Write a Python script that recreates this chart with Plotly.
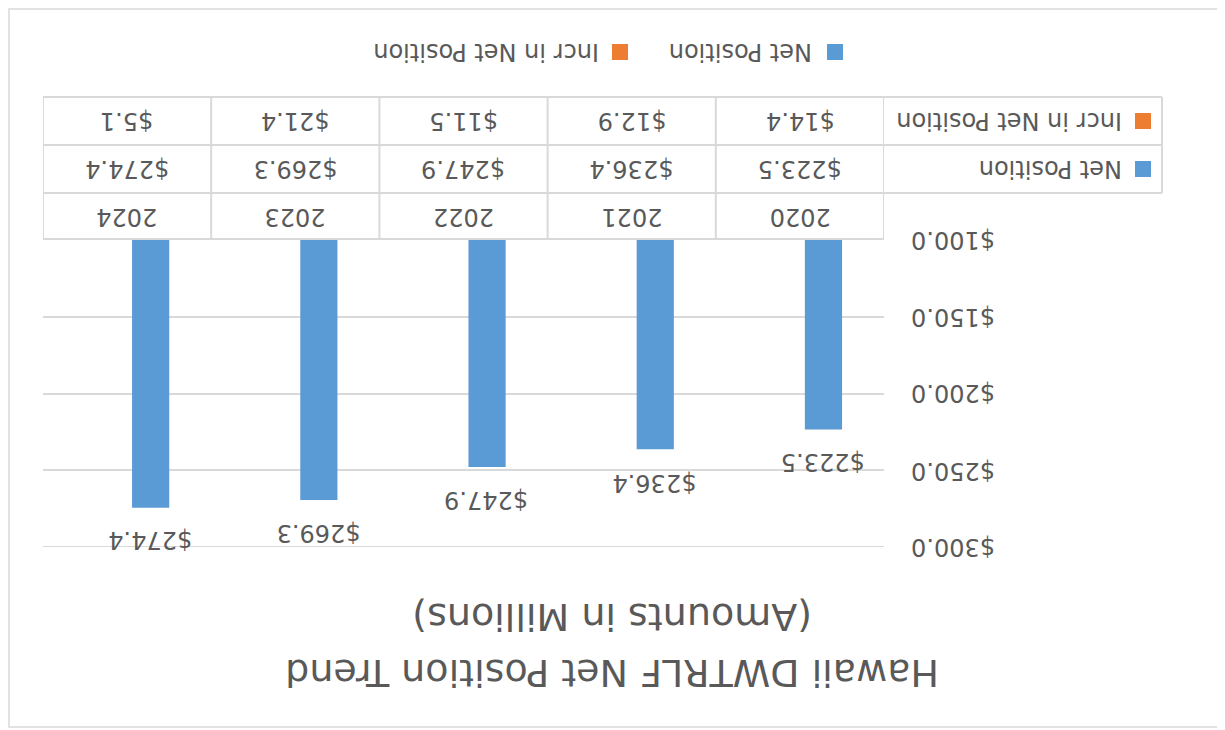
import plotly.graph_objects as go

# ---------------- data ----------------
years = ["2020", "2021", "2022", "2023", "2024"]
net_position = [223.5, 236.4, 247.9, 269.3, 274.4]
incr_net_position = [14.4, 12.9, 11.5, 21.4, 5.1]
y_ticks = [100, 150, 200, 250, 300]
series_names = ["Net Position", "Incr in Net Position"]
title_lines = ["Hawaii DWTRLF Net Position Trend", "(Amounts in Millions)"]

# ---------------- style ----------------
BLUE = "#5b9bd5"
ORANGE = "#ed7d31"
GRID = "#d9d9d9"
TEXT = "#595959"
FONT = "DejaVu Sans"
PAGE_W, PAGE_H = 1225, 730
OFF = 8                                  # browser body margin
W, H = PAGE_W - OFF, PAGE_H - OFF        # figure size
L, R, T, B = 43, 884, 240, 547           # plot area in page pixels
PW, PH = R - L, B - T


def fmt(v):
    return f"${v:,.1f}"


def xp(px):
    return (px - L) / PW


def yp(py):
    return (B - py) / PH


def label(text, x, y, xref="paper", yref="paper", size=24, **kw):
    d = dict(text=text, x=x, y=y, xref=xref, yref=yref, showarrow=False,
             textangle=180, xanchor="center", yanchor="middle",
             font=dict(family=FONT, size=size, color=TEXT))
    d.update(kw)
    return d


idx = list(range(len(years)))

fig = go.Figure()
fig.add_bar(x=idx, y=net_position, name=series_names[0],
            marker=dict(color=BLUE, line=dict(width=0)))
fig.add_bar(x=idx, y=incr_net_position, name=series_names[1],
            marker=dict(color=ORANGE, line=dict(width=0)))

shapes = []
annotations = []

# outer chart border
shapes.append(dict(type="rect", xref="paper", yref="paper",
                   x0=xp(OFF + 1), x1=xp(1220), y0=yp(727), y1=yp(OFF + 1),
                   line=dict(color=GRID, width=1.5), layer="below"))

# gridline at the far end of the value axis
shapes.append(dict(type="line", xref="paper", yref="y",
                   x0=0, x1=1, y0=max(y_ticks), y1=max(y_ticks),
                   line=dict(color=GRID, width=2), layer="below"))

# title (rotated 180 degrees like the reference)
annotations.append(label(title_lines[0], xp(612), yp(673), size=38))
annotations.append(label(title_lines[1], xp(612), yp(617), size=38))

# value axis tick labels
for v in y_ticks:
    annotations.append(label(fmt(v), xp(953), v, yref="y"))

# bar value labels
for i, v in zip(idx, net_position):
    annotations.append(label(fmt(v), i, v, xref="x", yref="y", xshift=23, yshift=-33))

# data table grid
for py in [97, 145, 193]:
    shapes.append(dict(type="line", xref="paper", yref="paper",
                       x0=xp(43), x1=xp(1162), y0=yp(py), y1=yp(py),
                       line=dict(color=GRID, width=2)))
for i in range(len(years) + 1):
    shapes.append(dict(type="line", xref="x", yref="paper",
                       x0=i - 0.5, x1=i - 0.5, y0=yp(97), y1=yp(240),
                       line=dict(color=GRID, width=2)))
shapes.append(dict(type="line", xref="paper", yref="paper",
                   x0=xp(1162), x1=xp(1162), y0=yp(97), y1=yp(193),
                   line=dict(color=GRID, width=2)))

# data table cells
for i, yr, v1, v2 in zip(idx, years, net_position, incr_net_position):
    annotations.append(label(yr, i, yp(217), xref="x"))
    annotations.append(label(fmt(v1), i, yp(169), xref="x"))
    annotations.append(label(fmt(v2), i, yp(121), xref="x"))

# table row labels with keys
for name, col, cy, cx in [(series_names[0], BLUE, 169, 1051),
                          (series_names[1], ORANGE, 121, 1009)]:
    annotations.append(label(name, xp(cx), yp(cy)))
    shapes.append(dict(type="rect", xref="paper", yref="paper",
                       x0=xp(1135), x1=xp(1151), y0=yp(cy - 8), y1=yp(cy + 8),
                       fillcolor=col, line=dict(width=0)))

# legend (rotated)
for name, col, tx, kx in [(series_names[0], BLUE, 741, 827),
                          (series_names[1], ORANGE, 486, 612)]:
    annotations.append(label(name, xp(tx), yp(52)))
    shapes.append(dict(type="rect", xref="paper", yref="paper",
                       x0=xp(kx), x1=xp(kx + 16), y0=yp(44), y1=yp(60),
                       fillcolor=col, line=dict(width=0)))

fig.update_layout(
    width=W, height=H,
    margin=dict(l=L - OFF, r=PAGE_W - R, t=T - OFF, b=PAGE_H - B,
                pad=0, autoexpand=False),
    paper_bgcolor="white", plot_bgcolor="white",
    barmode="group", bargap=0.44, bargroupgap=0.21,
    showlegend=False,
    font=dict(family=FONT, size=24, color=TEXT),
    shapes=shapes, annotations=annotations,
    xaxis=dict(type="linear", range=[len(years) - 0.5, -0.5], side="top",
               showline=True, linecolor=GRID, linewidth=2, automargin=False,
               showticklabels=False, showgrid=False, ticks="", zeroline=False),
    yaxis=dict(range=[300, 100], tickvals=y_ticks, showticklabels=False,
               side="right", ticks="", automargin=False,
               showgrid=True, gridcolor=GRID, gridwidth=2, zeroline=False,
               showline=False),
)

fig.write_html("out.html")
